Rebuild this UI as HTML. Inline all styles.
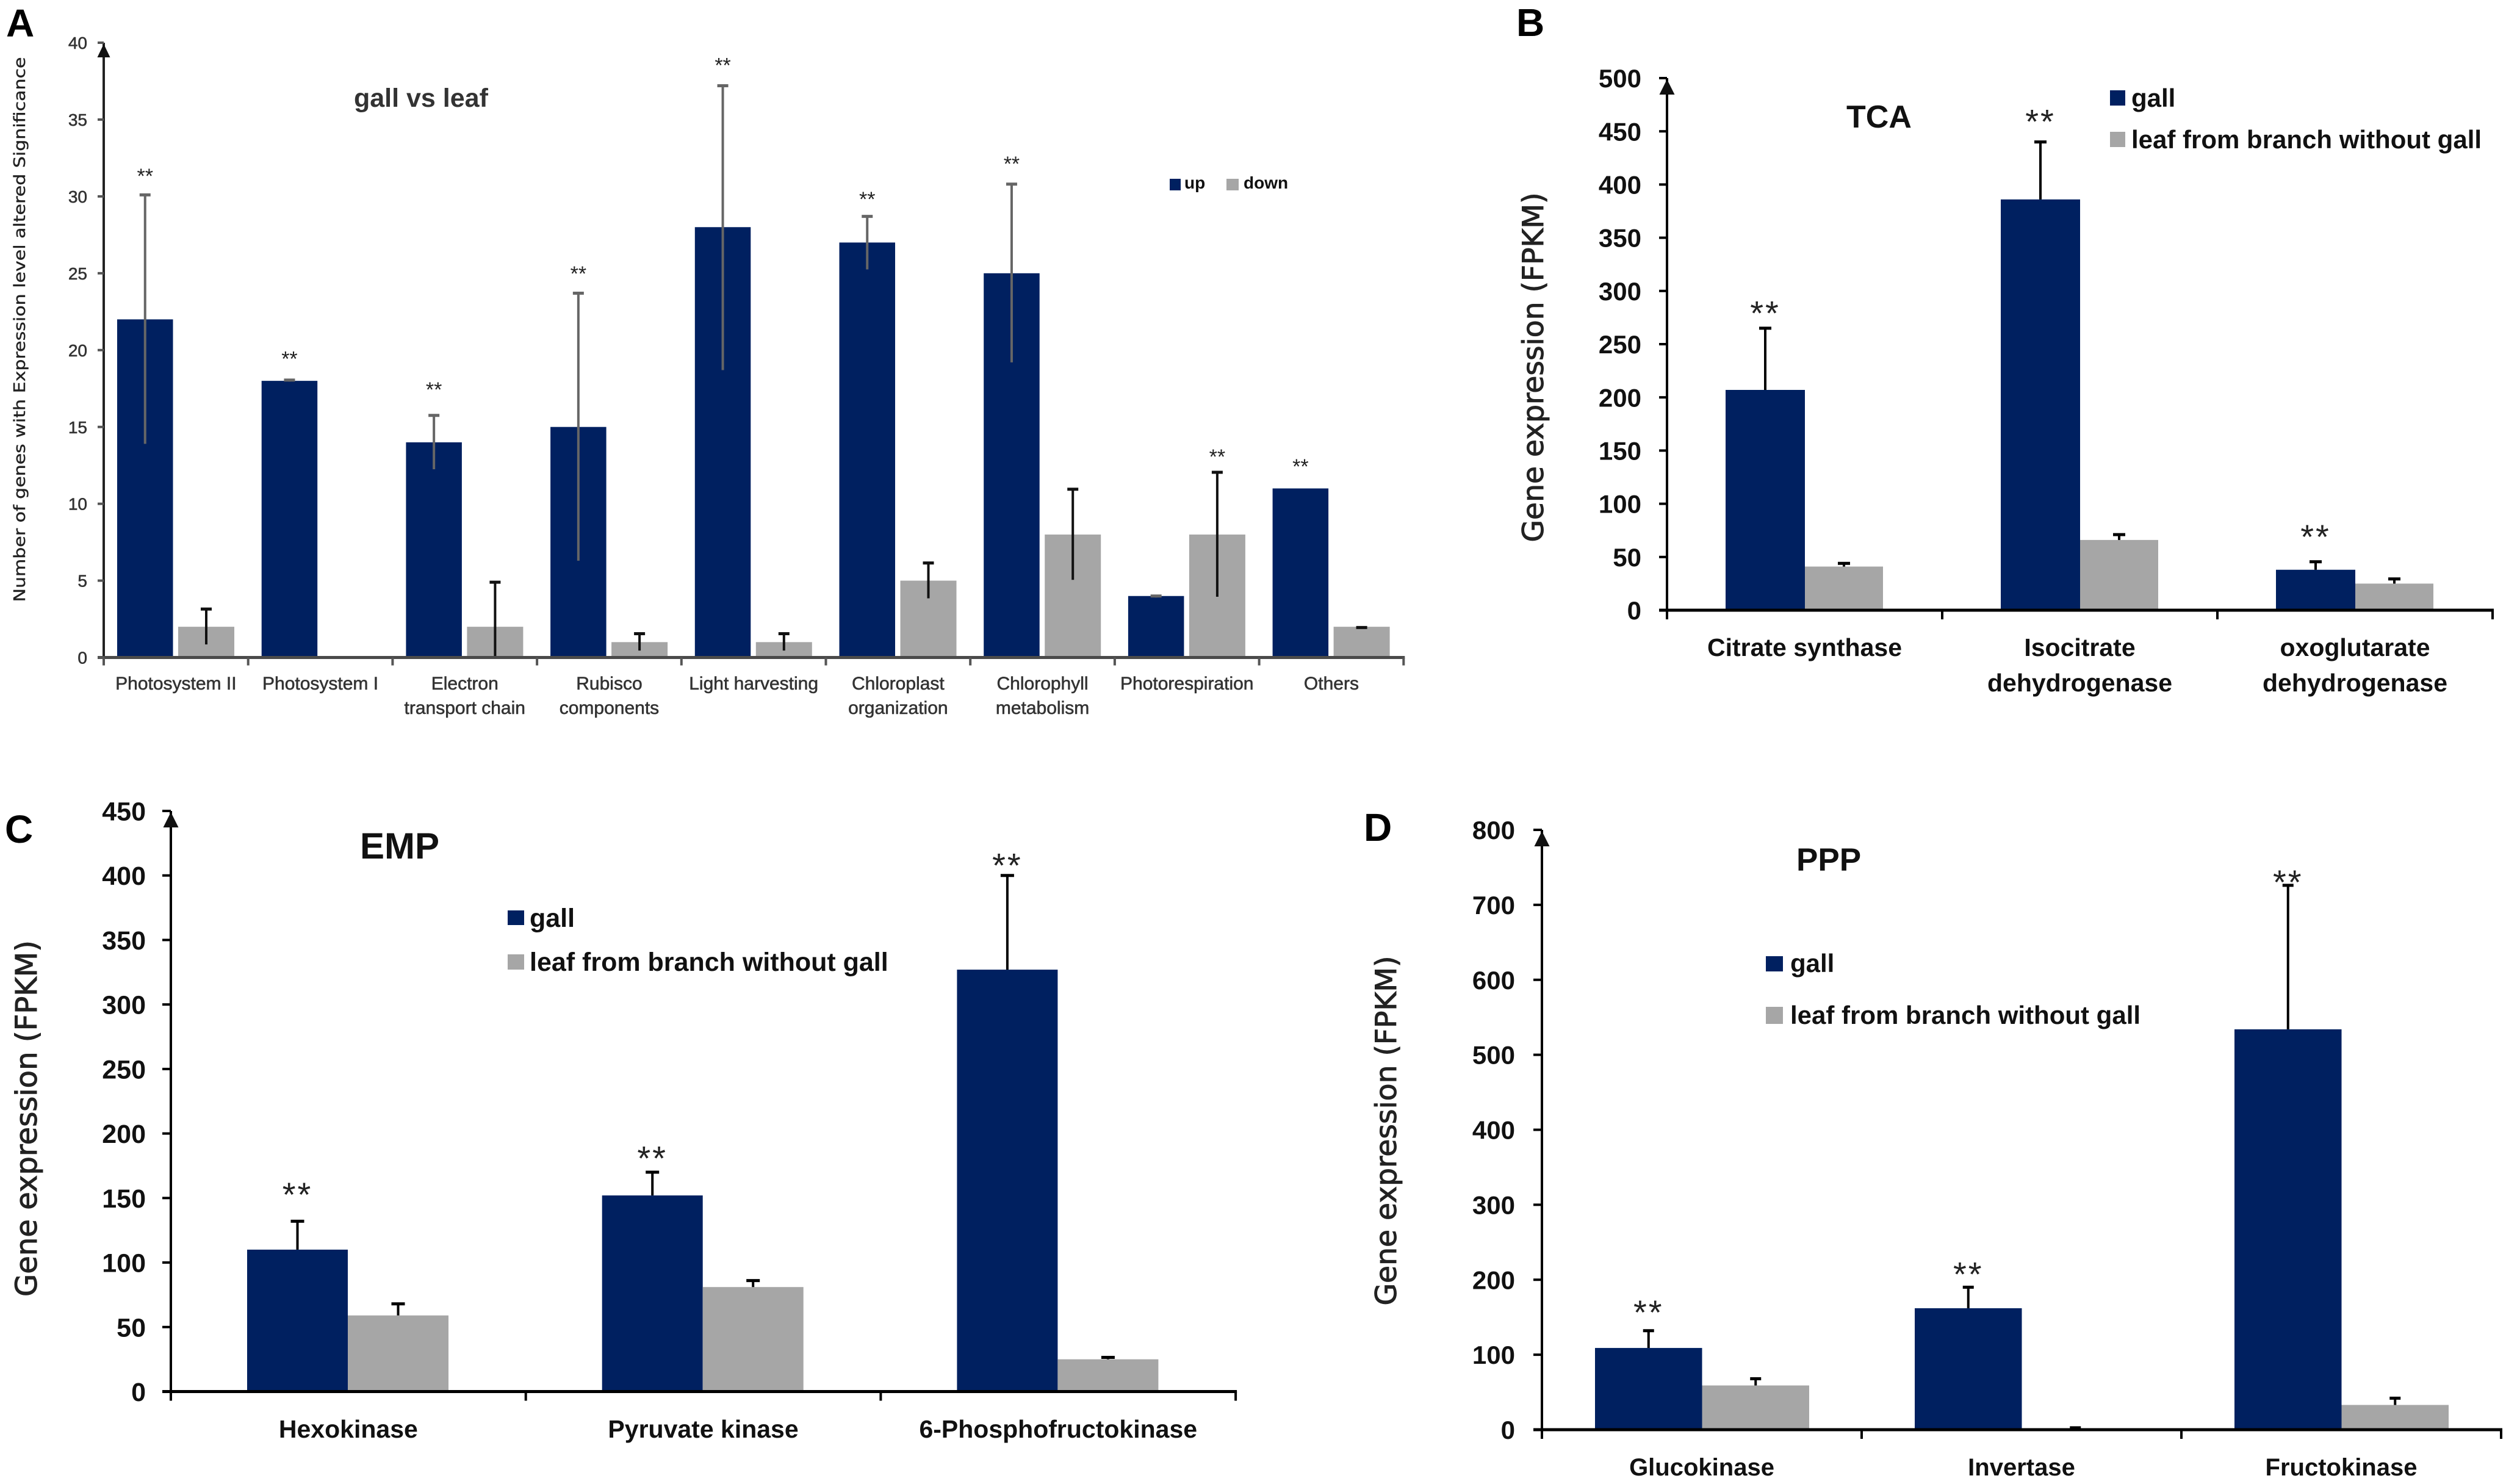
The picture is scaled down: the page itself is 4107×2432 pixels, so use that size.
<!DOCTYPE html>
<html lang="en">
<head>
<meta charset="utf-8">
<title>Gene expression in gall versus leaf</title>
<style>
html,body{margin:0;padding:0;background:#fff;width:4107px;height:2432px;overflow:hidden}
svg{display:block;font-family:"Liberation Sans",sans-serif}
</style>
</head>
<body>
<svg id="figure" xmlns="http://www.w3.org/2000/svg" width="4107" height="2432" viewBox="0 0 4107 2432">
  <rect width="4107" height="2432" fill="#fff"/>
  <g id="panel-a"></g>
  <g id="panel-b"></g>
  <g id="panel-c"></g>
  <g id="panel-d"></g>
</svg>
<script>
// Panel A data
const aCategories = [["Photosystem II"],["Photosystem I"],["Electron","transport chain"],["Rubisco","components"],["Light harvesting"],["Chloroplast","organization"],["Chlorophyll","metabolism"],["Photorespiration"],["Others"]];
const aTicks = [0,5,10,15,20,25,30,35,40];
const aUp = [22,18,14,15,28,27,25,4,11];
const aDown = [2,0,2,1,1,5,8,8,2];
const aUpErrHigh = [30.1,18.05,15.75,23.7,37.2,28.7,30.8,4,null];
const aUpErrLow = [13.9,17.95,12.25,6.3,18.7,25.25,19.2,3.9,null];
const aDownErrHigh = [3.15,null,4.9,1.55,1.55,6.15,10.95,12.05,1.95];
const aDownErrLow = [0.85,null,0,0.45,0.45,3.85,5.05,3.95,1.9];
const aStarLevels = [31.5,19.6,17.6,25.15,38.7,30,32.3,13.24,12.6];
const aStarSeries = [0,0,0,0,0,0,0,1,0];

// Panel B data
const bCategories = [["Citrate synthase"],["Isocitrate","dehydrogenase"],["oxoglutarate","dehydrogenase"]];
const bTicks = [0,50,100,150,200,250,300,350,400,450,500];
const bGall = [207,386,38];
const bLeaf = [41,66,25];
const bGallErr = [265,440,45.5];
const bLeafErr = [44,71,29.4];
const bStarLevels = [283,463,73];

// Panel C data
const cCategories = [["Hexokinase"],["Pyruvate kinase"],["6-Phosphofructokinase"]];
const cTicks = [0,50,100,150,200,250,300,350,400,450];
const cGall = [110,152,327];
const cLeaf = [59,81,25];
const cGallErr = [132,170,400];
const cLeafErr = [68,86,26.5];
const cStarLevels = [156,184,411];

// Panel D data
const dCategories = [["Glucokinase"],["Invertase"],["Fructokinase"]];
const dTicks = [0,100,200,300,400,500,600,700,800];
const dGall = [109,162,534];
const dLeaf = [59,1,33];
const dGallErr = [132,190,726];
const dLeafErr = [68,2.5,42];
const dStarLevels = [162,213,736];

const NS = "http://www.w3.org/2000/svg";
const NAVY = "#002060", GREY = "#a6a6a6", INK = "#111";

function mk(parent, tag, attrs, name, content) {
  const el = document.createElementNS(NS, tag);
  for (const k in attrs) el.setAttribute(k, attrs[k]);
  
  
  if (content !== undefined) el.textContent = content;
  parent.appendChild(el);
  return el;
}

function errorBar(g, x, yTop, yLow, cap, colour, width, name) {
  const eb = mk(g, "g", {stroke: colour, fill: "none"}, name);
  mk(eb, "line", {x1: x, x2: x, y1: yTop, y2: yLow, "stroke-width": width}, name + "-stem");
  mk(eb, "line", {x1: x - cap / 2, x2: x + cap / 2, y1: yTop, y2: yTop, "stroke-width": width + 1}, name + "-top-cap");
  return eb;
}

function drawPanel(p) {
  const g = document.getElementById(p.id);
  const yOf = v => p.y0 - v * (p.y0 - p.yTop) / p.max;
  const xGroup = i => p.xAxis + i * p.groupW;
  const n = p.categories.length;
  const barX = (i, si) => xGroup(i) + p.barOffset + si * (p.barW + p.barGap);
  const widths = [p.barW, p.barW2];

  // bars
  const seriesDefs = [
    {vals: p.s1, hi: p.e1, lo: p.l1, col: NAVY, label: p.names[0], errCol: p.errCol1},
    {vals: p.s2, hi: p.e2, lo: p.l2, col: GREY, label: p.names[1], errCol: p.errCol2}
  ];
  seriesDefs.forEach((s, si) => {
    const sg = mk(g, "g", {}, "series-" + s.label);
    s.vals.forEach((v, i) => {
      if (v > 0) {
        mk(sg, "rect", {x: barX(i, si), y: yOf(v), width: widths[si], height: p.y0 - yOf(v), fill: s.col}, "bar-" + s.label + "-" + (i + 1));
      }
    });
  });
  // error bars
  seriesDefs.forEach((s, si) => {
    s.vals.forEach((v, i) => {
      if (s.hi[i] === null) return;
      const cx = barX(i, si) + widths[si] / 2;
      const low = s.lo ? s.lo[i] : v;
      errorBar(g, cx, yOf(s.hi[i]), yOf(low), p.cap, s.errCol, p.errW, "error-bar-" + s.label + "-" + (i + 1));
    });
  });

  // significance stars
  p.stars.forEach((lvl, i) => {
    const si = p.starSeries ? p.starSeries[i] : 0;
    const cx = barX(i, si) + widths[si] / 2;
    mk(g, "text", {x: cx, y: yOf(lvl) + p.starSize * 0.467, "text-anchor": "middle", "font-size": p.starSize, "letter-spacing": p.starSpacing, fill: "#222"}, "significance-stars-" + (i + 1), "**");
  });

  // axes
  mk(g, "line", {x1: p.xAxis, x2: p.xAxis, y1: p.y0, y2: p.yTop, stroke: p.axisCol, "stroke-width": p.yAxisW}, "y-axis-line");
  mk(g, "line", {x1: p.xAxis - p.tickLen, x2: p.xAxis + n * p.groupW + 2, y1: p.y0, y2: p.y0, stroke: p.xAxisCol, "stroke-width": p.axisW}, "x-axis-line");
  const a = p.arrow;
  mk(g, "polygon", {points: (p.xAxis - a.w / 2) + "," + (p.yTop + a.top + a.h) + " " + (p.xAxis + a.w / 2) + "," + (p.yTop + a.top + a.h) + " " + p.xAxis + "," + (p.yTop + a.top), fill: "#111"}, "y-axis-arrow");

  // y ticks
  p.ticks.forEach(t => {
    const y = yOf(t);
    mk(g, "line", {x1: p.xAxis - p.tickLen, x2: p.xAxis, y1: y, y2: y, stroke: p.tickCol, "stroke-width": p.yAxisW}, "y-tick-" + t);
    mk(g, "text", {x: p.tickLabelX, y: y + p.tickSize * 0.36, "text-anchor": "end", "font-size": p.tickSize, "font-weight": p.tickWeight, stroke: p.textStroke, "stroke-width": p.textStrokeW, fill: p.textCol}, "y-tick-label-" + t, String(t));
  });

  // x ticks
  for (let i = 0; i <= n; i++) {
    mk(g, "line", {x1: xGroup(i), x2: xGroup(i), y1: p.y0, y2: p.y0 + p.xTickLen, stroke: p.tickCol, "stroke-width": p.yAxisW}, "x-tick-" + i);
  }

  // category labels
  p.categories.forEach((lines, i) => {
    const cx = xGroup(i) + p.groupW / 2;
    const t = mk(g, "text", {"text-anchor": "middle", "font-size": p.catSize, "font-weight": p.catWeight, stroke: p.textStroke, "stroke-width": p.textStrokeW, fill: p.textCol}, "category-label-" + (i + 1));
    lines.forEach((ln, j) => {
      mk(t, "tspan", {x: cx, y: p.catY + j * p.catLine}, "category-label-line", ln);
    });
  });

  // y title
  mk(g, "text", {x: 0, y: 0, transform: "translate(" + p.ytX + "," + p.ytY + ") rotate(-90)", "text-anchor": "middle", "font-size": p.ytSize, textLength: p.ytLen, lengthAdjust: "spacingAndGlyphs", fill: "#222", stroke: "#222", "stroke-width": p.ytStroke, style: 'font-family:"DejaVu Sans",sans-serif'}, "y-axis-title", p.yTitle);

  // title
  mk(g, "text", {x: p.titleX, y: p.titleY, "font-size": p.titleSize, "font-weight": "bold", fill: p.titleCol}, "chart-title", p.title);

  // panel letter
  mk(g, "text", {x: p.letterX, y: p.letterY, "font-size": 64, "font-weight": "bold", fill: "#000"}, "panel-label", p.letter);

  // legend
  const lg = mk(g, "g", {}, "legend");
  p.legend.forEach((e, i) => {
    const le = mk(lg, "g", {}, "legend-entry-" + p.names[i]);
    mk(le, "rect", {x: e.sx, y: e.sy, width: e.sw, height: e.sh, fill: i === 0 ? NAVY : GREY}, "legend-swatch-" + p.names[i]);
    mk(le, "text", {x: e.tx, y: e.ty, "font-size": p.legSize, "font-weight": "bold", fill: INK}, "legend-label-" + p.names[i], e.text);
  });
}

drawPanel({
  id: "panel-a", letter: "A", letterX: 10, letterY: 60,
  categories: aCategories, ticks: aTicks, max: 40, xAxis: 170, y0: 1077.5, yTop: 70, groupW: 236.7,
  barOffset: 22, barW: 91.5, barW2: 92, barGap: 8.5, cap: 18, errW: 4,
  s1: aUp, s2: aDown, e1: aUpErrHigh, e2: aDownErrHigh, l1: aUpErrLow, l2: aDownErrLow,
  errCol1: "#666", errCol2: "#111", names: ["up", "down"],
  stars: aStarLevels, starSeries: aStarSeries, starSize: 34, starSpacing: 0,
  axisW: 5, yAxisW: 4, tickLen: 10, xTickLen: 13, tickLabelX: 143, tickSize: 28, tickWeight: "normal",
  axisCol: "#222", xAxisCol: "#4a4a4a", tickCol: "#555",
  textStroke: "#333", textStrokeW: 0.6, textCol: "#333",
  arrow: {w: 21, h: 22, top: 2},
  catSize: 30, catWeight: "normal", catY: 1130, catLine: 40,
  ytX: 41, ytY: 540, ytSize: 26, ytLen: 893, ytStroke: 0.4, yTitle: "Number of genes with Expression level altered Significance",
  title: "gall vs leaf", titleX: 580, titleY: 175, titleSize: 43, titleCol: "#333",
  legSize: 28,
  legend: [
    {sx: 1917, sy: 293, sw: 18, sh: 19, tx: 1941, ty: 309, text: "up"},
    {sx: 2010, sy: 293, sw: 20, sh: 19, tx: 2038, ty: 309, text: "down"}
  ]
});

drawPanel({
  id: "panel-b", letter: "B", letterX: 2485, letterY: 59,
  categories: bCategories, ticks: bTicks, max: 500, xAxis: 2732, y0: 1000, yTop: 128, groupW: 451,
  barOffset: 96, barW: 130, barW2: 128, barGap: 0, cap: 20, errW: 4,
  s1: bGall, s2: bLeaf, e1: bGallErr, e2: bLeafErr, l1: null, l2: null,
  errCol1: "#000", errCol2: "#000", names: ["gall", "leaf"],
  stars: bStarLevels, starSize: 56, starSpacing: 3,
  axisW: 5, yAxisW: 4, tickLen: 13, xTickLen: 15, tickLabelX: 2690, tickSize: 42, tickWeight: "bold",
  axisCol: "#000", xAxisCol: "#000", tickCol: "#000",
  textStroke: "none", textStrokeW: 0, textCol: INK,
  arrow: {w: 25, h: 25, top: 2},
  catSize: 41, catWeight: "bold", catY: 1075, catLine: 58,
  ytX: 2529, ytY: 602, ytSize: 47, ytLen: 573, ytStroke: 1, yTitle: "Gene expression (FPKM)",
  title: "TCA", titleX: 3026, titleY: 209, titleSize: 52, titleCol: "#111",
  legSize: 42,
  legend: [
    {sx: 3458, sy: 148, sw: 25, sh: 25, tx: 3493, ty: 175, text: "gall"},
    {sx: 3458, sy: 216, sw: 25, sh: 25, tx: 3493, ty: 243, text: "leaf from branch without gall"}
  ]
});

drawPanel({
  id: "panel-c", letter: "C", letterX: 8, letterY: 1381,
  categories: cCategories, ticks: cTicks, max: 450, xAxis: 280, y0: 2280.5, yTop: 1329, groupW: 581.7,
  barOffset: 125, barW: 165, barW2: 165, barGap: 0, cap: 22, errW: 4,
  s1: cGall, s2: cLeaf, e1: cGallErr, e2: cLeafErr, l1: null, l2: null,
  errCol1: "#000", errCol2: "#000", names: ["gall", "leaf"],
  stars: cStarLevels, starSize: 56, starSpacing: 3,
  axisW: 5, yAxisW: 4, tickLen: 14, xTickLen: 15, tickLabelX: 239, tickSize: 43, tickWeight: "bold",
  axisCol: "#000", xAxisCol: "#000", tickCol: "#000",
  textStroke: "none", textStrokeW: 0, textCol: INK,
  arrow: {w: 25, h: 25, top: 2},
  catSize: 41, catWeight: "bold", catY: 2356, catLine: 56,
  ytX: 60, ytY: 1833, ytSize: 48, ytLen: 584, ytStroke: 1, yTitle: "Gene expression (FPKM)",
  title: "EMP", titleX: 590, titleY: 1407, titleSize: 60, titleCol: "#111",
  legSize: 43,
  legend: [
    {sx: 832, sy: 1492, sw: 27, sh: 24, tx: 868, ty: 1519, text: "gall"},
    {sx: 832, sy: 1564, sw: 27, sh: 25, tx: 868, ty: 1591, text: "leaf from branch without gall"}
  ]
});

drawPanel({
  id: "panel-d", letter: "D", letterX: 2235, letterY: 1378,
  categories: dCategories, ticks: dTicks, max: 800, xAxis: 2527, y0: 2343, yTop: 1360, groupW: 524,
  barOffset: 87, barW: 175.5, barW2: 175.5, barGap: 0, cap: 18, errW: 4,
  s1: dGall, s2: dLeaf, e1: dGallErr, e2: dLeafErr, l1: null, l2: null,
  errCol1: "#000", errCol2: "#000", names: ["gall", "leaf"],
  stars: dStarLevels, starSize: 56, starSpacing: 3,
  axisW: 5, yAxisW: 4, tickLen: 14, xTickLen: 15, tickLabelX: 2483, tickSize: 42, tickWeight: "bold",
  axisCol: "#000", xAxisCol: "#000", tickCol: "#000",
  textStroke: "none", textStrokeW: 0, textCol: INK,
  arrow: {w: 25, h: 25, top: 2},
  catSize: 40, catWeight: "bold", catY: 2418, catLine: 56,
  ytX: 2288, ytY: 1853, ytSize: 47, ytLen: 573, ytStroke: 1, yTitle: "Gene expression (FPKM)",
  title: "PPP", titleX: 2944, titleY: 1427, titleSize: 53, titleCol: "#111",
  legSize: 42,
  legend: [
    {sx: 2894, sy: 1567, sw: 28, sh: 25, tx: 2934, ty: 1593, text: "gall"},
    {sx: 2894, sy: 1650, sw: 28, sh: 28, tx: 2934, ty: 1678, text: "leaf from branch without gall"}
  ]
});
</script>
</body>
</html>
